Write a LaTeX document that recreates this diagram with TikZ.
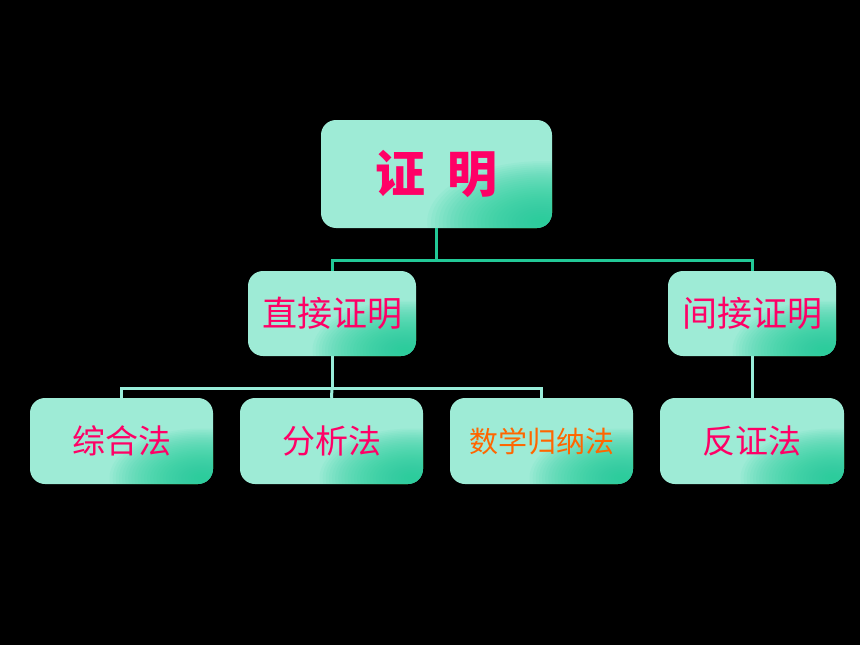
\documentclass[tikz,border=0pt]{standalone}
\usepackage{fontspec}
\setmainfont{Noto Sans CJK SC}
\newfontfamily\cjk{Noto Sans CJK SC}
\definecolor{boxlt}{HTML}{9EEBD6}
\definecolor{boxdk}{HTML}{1ECC98}
\definecolor{linedk}{HTML}{22C997}
\definecolor{linelt}{HTML}{99EEDA}
\definecolor{txtpink}{HTML}{FF0066}
\definecolor{txtorange}{HTML}{FF6600}
\tikzset{
  boxnode/.style={rectangle, rounded corners=15pt, inner sep=0pt, fill=boxlt,
    text=txtpink, font=\cjk,
    path picture={
      \coordinate (pc) at ([xshift=-10pt,yshift=6pt]path picture bounding box.south east);
      \foreach \k in {1,...,30}{
        \fill[boxdk, opacity=0.06] (pc) ellipse [x radius={#1*0.85*\k/30}, y radius={#1*0.45*\k/30}];
      }}},
  boxnode/.default=110pt,
  toplink/.style={draw=linedk, line width=3pt},
  sublink/.style={draw=linelt, line width=3pt},
}
\begin{document}
\begin{tikzpicture}[x=1pt,y=-1pt]
\fill[black] (0,0) rectangle (860,645);
\useasboundingbox (0,0) rectangle (860,645);
% nodes
\node[boxnode=135pt, minimum width=231pt, minimum height=108pt, font=\cjk\fontsize{50}{50}\bfseries\selectfont] (top) at (436.5,174) {证\hspace{22pt}明};
\node[boxnode, minimum width=168pt, minimum height=85pt, font=\cjk\fontsize{35}{35}\selectfont] (direct) at (332,313.5) {直接证明};
\node[boxnode, minimum width=168pt, minimum height=85pt, font=\cjk\fontsize{35}{35}\selectfont] (indirect) at (752,313.5) {间接证明};
\node[boxnode, minimum width=183pt, minimum height=86pt, font=\cjk\fontsize{33}{33}\selectfont] (synth) at (121.5,441) {综合法};
\node[boxnode, minimum width=183pt, minimum height=86pt, font=\cjk\fontsize{33}{33}\selectfont] (anal) at (331.5,441) {分析法};
\node[boxnode, minimum width=183pt, minimum height=86pt, text=txtorange, font=\cjk\fontsize{29}{29}\selectfont] (induct) at (541.5,441) {数学归纳法};
\node[boxnode, minimum width=184pt, minimum height=86pt, font=\cjk\fontsize{33}{33}\selectfont] (contra) at (752,441) {反证法};
% connectors
\coordinate (j1) at (436.5,260);
\coordinate (j2) at (332,388);
\draw[toplink] (top.south) -- (j1);
\draw[toplink] (direct.north) |- (j1) -| (indirect.north);
\draw[sublink] (direct.south) -- (j2);
\draw[sublink] (synth.north) |- (j2) -| (induct.north);
\draw[sublink] (anal.north) -- (j2);
\draw[sublink] (indirect.south) -- (contra.north);
\end{tikzpicture}
\end{document}
